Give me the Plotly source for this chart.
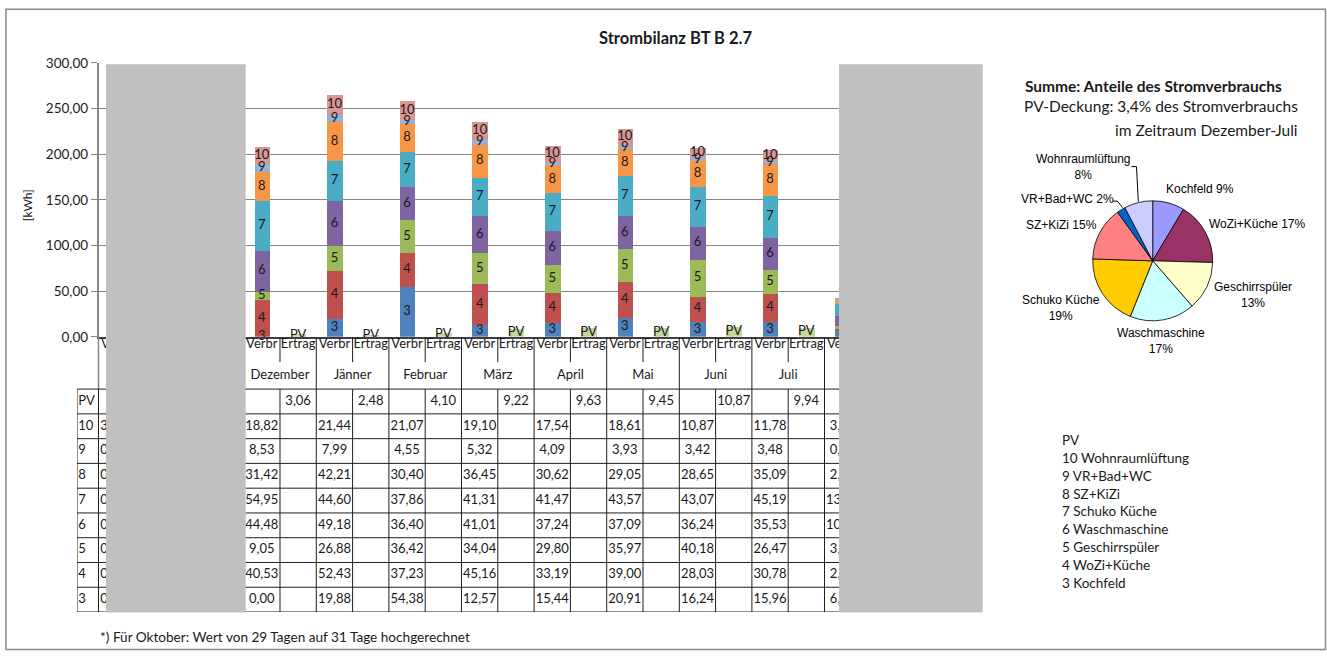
import numpy as np
import plotly.graph_objects as go

W = 1327
H = 665                 # figure height in px
SY = 673 / 657          # vertical layout scale
Y0 = 8                  # vertical layout offset

# ---------------------------------------------------------------- data
months = ["Oktober", "November", "Dezember", "Jänner", "Februar", "März",
          "April", "Mai", "Juni", "Juli", "August", "September"]
sub_labels = ["Verbr", "Ertrag"]

# monthly consumption per circuit [kWh]; None = no value
kochfeld         = [None, None, 0.00, 19.88, 54.38, 12.57, 15.44, 20.91, 16.24, 15.96, 6.40, None]
wozi_kueche      = [None, None, 40.53, 52.43, 37.23, 45.16, 33.19, 39.00, 28.03, 30.78, 2.60, None]
geschirrspueler  = [None, None, 9.05, 26.88, 36.42, 34.04, 29.80, 35.97, 40.18, 26.47, 3.20, None]
waschmaschine    = [None, None, 44.48, 49.18, 36.40, 41.01, 37.24, 37.09, 36.24, 35.53, 10.40, None]
schuko_kueche    = [None, None, 54.95, 44.60, 37.86, 41.31, 41.47, 43.57, 43.07, 45.19, 13.80, None]
sz_kizi          = [None, None, 31.42, 42.21, 30.40, 36.45, 30.62, 29.05, 28.65, 35.09, 2.60, None]
vr_bad_wc        = [None, None, 8.53, 7.99, 4.55, 5.32, 4.09, 3.93, 3.42, 3.48, 0.40, None]
wohnraumlueftung = [None, None, 18.82, 21.44, 21.07, 19.10, 17.54, 18.61, 10.87, 11.78, 3.40, None]
# PV yield [kWh]
pv_ertrag        = [None, None, 3.06, 2.48, 4.10, 9.22, 9.63, 9.45, 10.87, 9.94, None, None]

# leading characters of the Oktober column (rest of the column is blanked)
oktober_head = ["", "3", "0", "0", "0", "0", "0", "0", "0"]

# months whose bar labels are blanked
blank_months = {0, 1, 10, 11}

# stacked series, bottom to top: (number, name, values, bar colour)
series = [
    ("3", "Kochfeld", kochfeld, "#4F81BD"),
    ("4", "WoZi+Küche", wozi_kueche, "#C0504D"),
    ("5", "Geschirrspüler", geschirrspueler, "#9BBB59"),
    ("6", "Waschmaschine", waschmaschine, "#8064A2"),
    ("7", "Schuko Küche", schuko_kueche, "#4BACC6"),
    ("8", "SZ+KiZi", sz_kizi, "#F79646"),
    ("9", "VR+Bad+WC", vr_bad_wc, "#95B3D7"),
    ("10", "Wohnraumlüftung", wohnraumlueftung, "#D99694"),
]
pv_color = "#C3D69B"

# pie: share of consumption, Dezember - Juli
pie_months = slice(2, 10)
pie_order = ["Kochfeld", "WoZi+Küche", "Geschirrspüler", "Waschmaschine",
             "Schuko Küche", "SZ+KiZi", "VR+Bad+WC", "Wohnraumlüftung"]
pie_colors = ["#9999FF", "#993366", "#FFFFCC", "#CCFFFF",
              "#FFCC00", "#FF8080", "#0066CC", "#CCCCFF"]

FONT = "Lato, 'Open Sans', sans-serif"
ARIAL = "'Liberation Sans', Arial, sans-serif"
TXT = "#1a1a1a"


def px(x):
    return x / W


def py(y):
    return 1 - (y * SY - Y0) / H


def num(v):
    return "" if v is None else f"{v:.2f}".replace(".", ",")


fig = go.Figure()

xv = np.arange(12) * 2          # "Verbr" slot of each month
xe = np.arange(12) * 2 + 1      # "Ertrag" slot of each month
shown = np.array([m not in blank_months for m in range(12)])

# ---------------------------------------------------------------- stacked bars
base = np.zeros(12)
for number, name, vals, color in series:
    v = np.array([np.nan if a is None else a for a in vals], dtype=float)
    fig.add_bar(x=xv, y=v, width=0.43, marker=dict(color=color, line=dict(width=0)),
                name=f"{number} {name}", hoverinfo="skip", showlegend=False)
    mid = base + v / 2
    fig.add_scatter(x=xv[shown], y=mid[shown], mode="text", text=[number] * int(shown.sum()),
                    textposition="middle center", cliponaxis=False,
                    textfont=dict(family=FONT, size=13, color=TXT),
                    hoverinfo="skip", showlegend=False)
    base = base + np.nan_to_num(v)

pv = np.array([np.nan if a is None else a for a in pv_ertrag], dtype=float)
fig.add_bar(x=xe, y=pv, width=0.43, marker=dict(color=pv_color, line=dict(width=0)),
            name="PV", hoverinfo="skip", showlegend=False)
fig.add_scatter(x=xe, y=pv / 2, mode="text", text=["PV"] * 12,
                textposition="middle center", cliponaxis=False,
                textfont=dict(family=FONT, size=13, color=TXT),
                hoverinfo="skip", showlegend=False)

# ---------------------------------------------------------------- data table
# table axis: one unit per row; rows 0..8 = PV, 10 ... 3; header above 0
ROW_VERBR, ROW_MONTH = -1.776, -0.537
tx, ty, tt = [], [], []
for k in range(24):
    tx.append(k); ty.append(ROW_VERBR); tt.append(sub_labels[k % 2])
for m, name in enumerate(months):
    tx.append(2 * m + 0.5); ty.append(ROW_MONTH); tt.append(name)
for m in range(12):
    tx.append(2 * m + 1); ty.append(0.5); tt.append(num(pv_ertrag[m]))
for r, (number, name, vals, color) in enumerate(reversed(series)):
    for m in range(12):
        tx.append(2 * m); ty.append(r + 1.5); tt.append(num(vals[m]))
fig.add_scatter(x=tx, y=ty, text=tt, mode="text", textposition="middle center",
                textfont=dict(family=FONT, size=13, color=TXT), cliponaxis=False,
                xaxis="x3", yaxis="y3", hoverinfo="skip", showlegend=False)

row_labels = ["PV"] + [s[0] for s in reversed(series)]
fig.add_scatter(x=[-1.056] * 9, y=np.arange(9) + 0.5, text=row_labels, mode="text",
                textposition="middle right", cliponaxis=False,
                textfont=dict(family=FONT, size=13, color=TXT),
                xaxis="x3", yaxis="y3", hoverinfo="skip", showlegend=False)
fig.add_scatter(x=[-0.45] * 9, y=np.arange(9) + 0.5, text=oktober_head, mode="text",
                textposition="middle right", cliponaxis=False,
                textfont=dict(family=FONT, size=13, color=TXT),
                xaxis="x3", yaxis="y3", hoverinfo="skip", showlegend=False)

# ---------------------------------------------------------------- shapes
shapes = []
LINE = dict(color="#1f1f1f", width=1)
AXGREY = "#868686"
TOP, TBL_LEFT, RIGHT, BOTTOM = -2.1, -1.092, 23.5, 9


def tline(x0, y0, x1, y1, line=LINE):
    shapes.append(dict(type="line", xref="x3", yref="y3", x0=x0, y0=y0, x1=x1, y1=y1,
                       line=line, layer="above"))


for k in range(25):
    x = k - 0.5
    if k == 0:
        tline(x, TOP, x, 0, dict(color=AXGREY, width=1.5))
        tline(x, 0, x, BOTTOM)
    elif k % 2 == 0:
        tline(x, TOP, x, BOTTOM)
    else:
        tline(x, TOP, x, TOP + 1.01)
        tline(x, 0, x, BOTTOM)
tline(TBL_LEFT, 0, TBL_LEFT, BOTTOM)
for r in range(10):
    tline(TBL_LEFT, r, RIGHT, r)

# blanked areas
for x0, x1 in [(106, 245.7), (839, 982.7)]:
    shapes.append(dict(type="rect", xref="paper", yref="paper",
                       x0=px(x0), x1=px(x1), y0=py(612.5), y1=py(64),
                       fillcolor="#C0C0C0", line=dict(width=0), layer="above"))

# outer frame
shapes.append(dict(type="rect", xref="paper", yref="paper",
                   x0=px(6), x1=px(1325.5), y0=py(649.5), y1=py(9),
                   line=dict(color="#8a8a8a", width=1.5), fillcolor="rgba(0,0,0,0)",
                   layer="below"))

# pie leader lines
def ppath(pts):
    return "M " + " L ".join(f"{px(a):.5f},{py(b):.5f}" for a, b in pts)


for pts in [[(1131.5, 166.5), (1136.5, 166.5), (1138.3, 201.5)],
            [(1112.8, 201.0), (1117.3, 201.0), (1122.7, 207.5)]]:
    shapes.append(dict(type="path", xref="paper", yref="paper", path=ppath(pts),
                       line=dict(color="#000000", width=1), layer="above"))

# ---------------------------------------------------------------- pie
name_to_vals = {name: vals for _, name, vals, _ in series}
pie_vals = [float(np.sum(name_to_vals[n][pie_months])) for n in pie_order]
total = sum(pie_vals)
pct = [int(v / total * 100 + 0.5) for v in pie_vals]

cx, cy, rad = 1152.7, 260.7, 60
fig.add_pie(values=pie_vals, labels=pie_order, sort=False, direction="clockwise",
            rotation=0, textinfo="none", hoverinfo="skip", showlegend=False,
            marker=dict(colors=pie_colors, line=dict(color="#000000", width=0.8)),
            domain=dict(x=[px(cx - rad), px(cx + rad)], y=[py(cy + rad), py(cy - rad)]))

annotations = []


def ann(x, y, text, size=13, family=FONT, xanchor="center", angle=0, color=TXT):
    annotations.append(dict(x=px(x), y=py(y), xref="paper", yref="paper", text=text,
                            showarrow=False, xanchor=xanchor, yanchor="middle",
                            textangle=angle, borderpad=0,
                            font=dict(family=family, size=size, color=color)))


pie_label_pos = {
    "Kochfeld": (1200, 189.3, False),
    "WoZi+Küche": (1256.7, 224, False),
    "Geschirrspüler": (1253, 295.3, True),
    "Waschmaschine": (1161, 340.5, True),
    "Schuko Küche": (1061, 307.7, True),
    "SZ+KiZi": (1061.3, 225.3, False),
    "VR+Bad+WC": (1067, 199.3, False),
    "Wohnraumlüftung": (1083.5, 166.7, True),
}
for n, p in zip(pie_order, pct):
    x, y, two = pie_label_pos[n]
    ann(x, y, f"{n}<br>{p}%" if two else f"{n} {p}%", size=12, family=ARIAL, color="#000")

# ---------------------------------------------------------------- text
ann(675, 38, "<b>Strombilanz BT B 2.7</b>", size=16.5)
ann(27, 205, "[kWh]", size=12, angle=-90)
ann(1024, 86, "<b>Summe: Anteile des Stromverbrauchs</b>", size=15.5, xanchor="left")
ann(1299, 106, "PV-Deckung: 3,4% des Stromverbrauchs", size=15.5, xanchor="right")
ann(1299, 130, "im Zeitraum Dezember-Juli", size=15.5, xanchor="right")
ann(99, 637, "*) Für Oktober: Wert von 29 Tagen auf 31 Tage hochgerechnet", size=13.6,
    xanchor="left")

legend_lines = ["PV"] + [f"{s[0]} {s[1]}" for s in reversed(series)]
for i, t in enumerate(legend_lines):
    ann(1060.5, 440 + i * 17.84, t, size=13.5, xanchor="left")

# ---------------------------------------------------------------- layout
fig.update_layout(
    width=W, height=H, margin=dict(l=0, r=0, t=0, b=0),
    paper_bgcolor="white", plot_bgcolor="rgba(0,0,0,0)",
    barmode="stack", bargap=0, separators=",.",
    showlegend=False, hovermode=False,
    font=dict(family=FONT, color=TXT),
    xaxis=dict(domain=[px(98.5), px(969.7)], range=[-0.5, 23.5], showticklabels=False,
               showgrid=False, zeroline=False, showline=True, linecolor="#404040",
               linewidth=1.5, ticks="", fixedrange=True, anchor="y"),
    yaxis=dict(domain=[py(336.7), py(62.7)], range=[0, 300], dtick=50, tickformat=".2f",
               showgrid=True, gridcolor=AXGREY, gridwidth=1, zeroline=False,
               showline=True, linecolor=AXGREY, linewidth=1.5, ticks="outside",
               ticklen=6, tickcolor=AXGREY, tickfont=dict(family=FONT, size=13.5, color=TXT),
               fixedrange=True, anchor="x"),
    xaxis3=dict(domain=[px(77), px(969.7)], range=[TBL_LEFT, RIGHT], visible=False,
                anchor="y3", fixedrange=True),
    yaxis3=dict(domain=[py(612), py(337)], range=[BOTTOM, TOP], visible=False,
                anchor="x3", fixedrange=True),
    shapes=shapes, annotations=annotations,
)

fig.write_html("out.html")
